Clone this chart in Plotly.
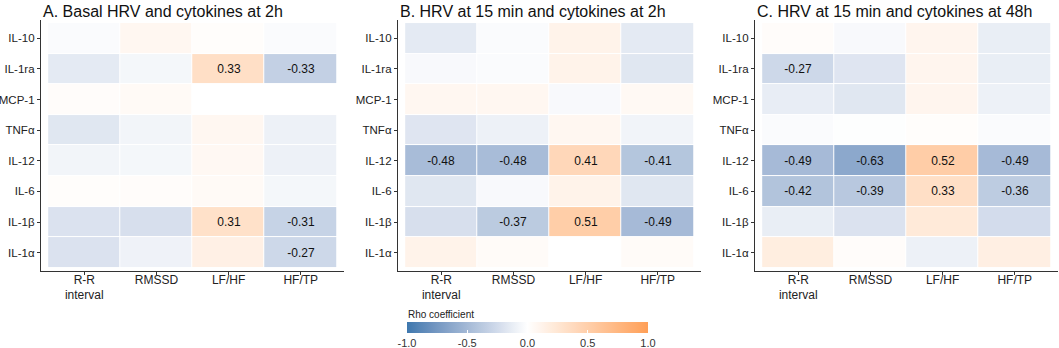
import numpy as np
import plotly.graph_objects as go

cytokines = ["IL-10", "IL-1ra", "MCP-1", "TNFα", "IL-12", "IL-6", "IL-1β", "IL-1α"]
hrv = ["R-R<br>interval", "RMSSD", "LF/HF", "HF/TP"]

titles = ["A. Basal HRV and cytokines at 2h",
          "B. HRV at 15 min and cytokines at 2h",
          "C. HRV at 15 min and cytokines at 48h"]

# rows = cytokines (top to bottom), cols = HRV measures
rho_a = [[-0.03, 0.08, 0.02, -0.03],
         [-0.15, -0.06, 0.33, -0.33],
         [0.03, 0.05, 0.00, 0.00],
         [-0.17, -0.07, 0.08, -0.10],
         [-0.07, -0.06, 0.07, -0.10],
         [0.02, 0.03, 0.05, -0.06],
         [-0.20, -0.22, 0.31, -0.31],
         [-0.20, -0.09, 0.15, -0.27]]

rho_b = [[-0.15, -0.03, 0.12, -0.15],
         [-0.04, -0.03, 0.12, -0.17],
         [0.08, 0.08, -0.04, 0.06],
         [-0.18, -0.10, 0.08, -0.08],
         [-0.48, -0.48, 0.41, -0.41],
         [-0.17, -0.04, 0.12, -0.17],
         [-0.22, -0.37, 0.51, -0.49],
         [0.12, 0.04, 0.00, 0.04]]

rho_c = [[0.03, -0.04, 0.10, -0.12],
         [-0.27, -0.18, 0.10, -0.12],
         [-0.13, -0.17, 0.10, -0.10],
         [-0.03, -0.01, 0.02, -0.03],
         [-0.49, -0.63, 0.52, -0.49],
         [-0.42, -0.39, 0.33, -0.36],
         [-0.12, -0.20, 0.22, -0.24],
         [0.18, 0.03, -0.10, 0.16]]

panels = [rho_a, rho_b, rho_c]
label_threshold = 0.27

cbar_ticks = [-1, -0.5, 0, 0.5, 1]
cbar_ticktext = ["-1.0", "-0.5", "0.0", "0.5", "1.0"]
cbar_title = "Rho coefficient"

# ---- Lab interpolated diverging scale (like ggplot scale_fill_gradient2) ----
LOW, MID, HIGH = "#3E78AE", "#FFFFFF", "#FF9F57"


def hex2rgb(h):
    h = h.lstrip("#")
    return np.array([int(h[i:i + 2], 16) for i in (0, 2, 4)], float) / 255


def srgb2lin(c):
    return np.where(c <= 0.04045, c / 12.92, ((c + 0.055) / 1.055) ** 2.4)


def lin2srgb(c):
    c = np.clip(c, 0, 1)
    return np.where(c <= 0.0031308, c * 12.92, 1.055 * c ** (1 / 2.4) - 0.055)


M = np.array([[0.4124, 0.3576, 0.1805], [0.2126, 0.7152, 0.0722], [0.0193, 0.1192, 0.9505]])
Minv = np.linalg.inv(M)
WP = np.array([0.95047, 1.0, 1.08883])


def f(t):
    d = 6 / 29
    return np.where(t > d ** 3, np.cbrt(t), t / (3 * d * d) + 4 / 29)


def finv(t):
    d = 6 / 29
    return np.where(t > d, t ** 3, 3 * d * d * (t - 4 / 29))


def rgb2lab(c):
    xyz = M @ srgb2lin(c) / WP
    fx, fy, fz = f(xyz)
    return np.array([116 * fy - 16, 500 * (fx - fy), 200 * (fy - fz)])


def lab2rgb(lab):
    L, a, b = lab
    fy = (L + 16) / 116
    fx = fy + a / 500
    fz = fy - b / 200
    xyz = finv(np.array([fx, fy, fz])) * WP
    return lin2srgb(Minv @ xyz)


lab_lo, lab_mid, lab_hi = rgb2lab(hex2rgb(LOW)), rgb2lab(hex2rgb(MID)), rgb2lab(hex2rgb(HIGH))
colorscale = []
for s in np.linspace(0, 1, 41):
    v = 2 * s - 1
    lab = lab_mid + (lab_lo - lab_mid) * (-v) if v < 0 else lab_mid + (lab_hi - lab_mid) * v
    r, g, b = (lab2rgb(lab) * 255).round().astype(int)
    colorscale.append([float(s), f"rgb({r},{g},{b})"])

W, H = 1059, 348
x_domains = [[41 / W, 344 / W], [398 / W, 701 / W], [755 / W, 1058 / W]]
y_domain = [1 - 271 / H, 1 - 20 / H]

FONT = "Liberation Sans, Arial, sans-serif"
fig = go.Figure()

for i, (vals, title) in enumerate(zip(panels, titles)):
    z = np.array(vals)
    text = [[f"{v:.2f}" if abs(v) >= label_threshold else "" for v in row] for row in vals]
    xa = "x" if i == 0 else f"x{i + 1}"
    ya = "y" if i == 0 else f"y{i + 1}"
    fig.add_trace(go.Heatmap(
        z=z, x=hrv, y=cytokines, text=text, texttemplate="%{text}",
        textfont=dict(size=12, color="#111111", family=FONT),
        coloraxis="coloraxis", xgap=1, ygap=1, xaxis=xa, yaxis=ya,
        hovertemplate="%{y} / %{x}: %{z:.2f}<extra></extra>"))
    axsuf = "" if i == 0 else str(i + 1)
    common = dict(showline=True, linecolor="#333333", linewidth=1.3, ticks="outside",
                  ticklen=3, tickcolor="#333333", tickwidth=1.1, showgrid=False, zeroline=False,
                  fixedrange=True)
    fig.layout["xaxis" + axsuf] = dict(domain=x_domains[i], anchor=ya, type="category",
                                       categoryorder="array", categoryarray=hrv,
                                       range=[-0.6, 3.6], ticklabelstandoff=-6,
                                       tickfont=dict(size=12, color="#222222", family=FONT),
                                       **common)
    fig.layout["yaxis" + axsuf] = dict(domain=y_domain, anchor=xa, type="category",
                                       categoryorder="array", categoryarray=cytokines,
                                       range=[7.6, -0.6],
                                       tickfont=dict(size=11.5, color="#222222", family=FONT),
                                       **common)
    fig.add_annotation(text=title, xref="paper", yref="paper", x=x_domains[i][0], y=1 - 12 / H,
                       xanchor="left", yanchor="middle", showarrow=False,
                       font=dict(size=16, color="#111111", family=FONT))

# colorbar title (left-aligned above the bar, as in the reference)
fig.add_annotation(text=cbar_title, xref="paper", yref="paper", x=406 / W, y=1 - 314 / H,
                   xanchor="left", yanchor="middle", showarrow=False,
                   font=dict(size=10, color="#222222", family=FONT))

fig.update_layout(
    width=W, height=H, margin=dict(l=0, r=0, t=0, b=0, autoexpand=False),
    paper_bgcolor="white", plot_bgcolor="white", font=dict(family=FONT),
    coloraxis=dict(
        cmin=-1, cmax=1, colorscale=colorscale,
        colorbar=dict(orientation="h", x=527.5 / W, xanchor="center",
                      yref="container", y=1 - 322 / H, yanchor="top",
                      len=241, lenmode="pixels", thickness=11, thicknessmode="pixels",
                      outlinewidth=0, xpad=0, ypad=0,
                      tickvals=cbar_ticks, ticktext=cbar_ticktext,
                      ticks="inside", ticklen=3, tickcolor="white",
                      tickfont=dict(size=11, color="#333333", family=FONT))),
)

# remove the browser's default 8px body margin so the figure sits at the window origin
fig.write_html("out.html", config={"displayModeBar": False},
               post_script="document.body.style.margin='0';")
